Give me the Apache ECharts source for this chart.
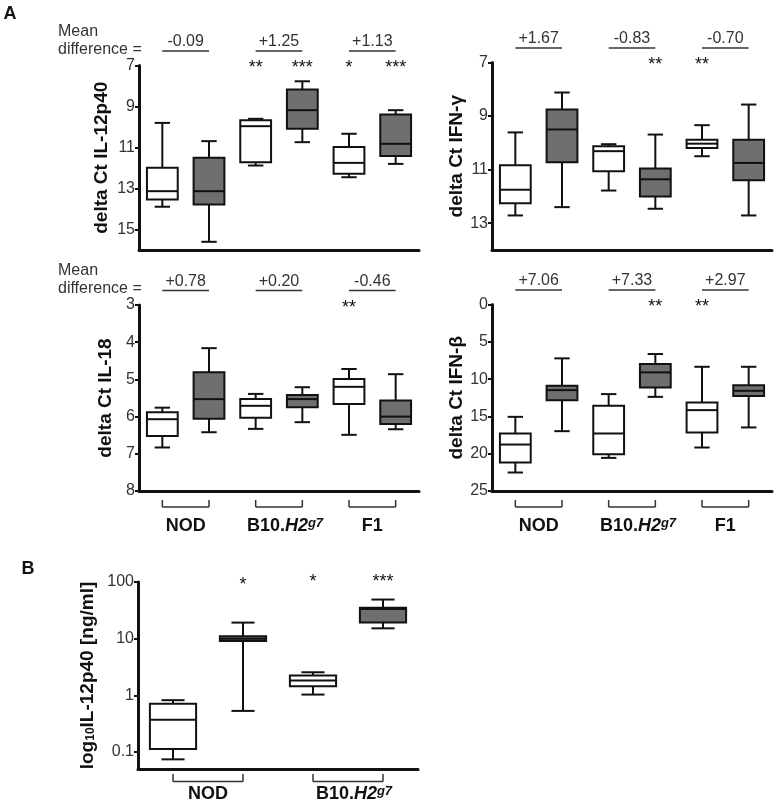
<!DOCTYPE html>
<html>
<head>
<meta charset="utf-8">
<script src="https://cdn.jsdelivr.net/npm/echarts@6/dist/echarts.min.js"></script>
<style>html,body{margin:0;padding:0;background:#fff}#c{width:776px;height:807px}</style>
</head>
<body>
<div id="c"></div>
<script>
// ---------- data ----------
const categories = ['NOD a', 'NOD b', 'B10 a', 'B10 b', 'F1 a', 'F1 b'];
const groupLabels = ['NOD', 'B10.H2g7', 'F1'];
const fillKinds = [0, 1, 0, 1, 0, 1]; // 0 = white box, 1 = grey box
// box values: [min, Q1, median, Q3, max]
const il12p40 = [
  [9.80, 11.99, 13.13, 13.54, 13.89],
  [10.69, 11.50, 13.13, 13.78, 15.60],
  [9.60, 9.67, 9.96, 11.72, 11.88],
  [7.77, 8.17, 9.18, 10.09, 10.74],
  [10.33, 10.97, 11.75, 12.28, 12.45],
  [9.18, 9.39, 10.82, 11.42, 11.80]
];
const ifnGamma = [
  [9.61, 10.84, 11.75, 12.25, 12.71],
  [8.12, 8.75, 9.50, 10.72, 12.40],
  [10.05, 10.13, 10.31, 11.06, 11.78],
  [9.69, 10.96, 11.36, 12.00, 12.46],
  [9.34, 9.88, 10.03, 10.19, 10.50],
  [8.57, 9.88, 10.75, 11.40, 12.71]
];
const il18 = [
  [5.76, 5.88, 6.07, 6.52, 6.83],
  [4.16, 4.81, 5.53, 6.06, 6.42],
  [5.39, 5.53, 5.71, 6.03, 6.33],
  [5.21, 5.42, 5.53, 5.75, 6.15],
  [4.72, 4.99, 5.20, 5.66, 6.49],
  [4.86, 5.57, 6.00, 6.20, 6.34]
];
const ifnBeta = [
  [15.06, 17.29, 18.77, 21.18, 22.52],
  [7.22, 10.90, 11.48, 12.82, 16.98],
  [12.01, 13.58, 17.29, 20.07, 20.56],
  [6.64, 7.99, 9.10, 11.11, 12.38],
  [8.35, 13.13, 14.16, 17.15, 19.17],
  [8.35, 10.81, 11.57, 12.28, 16.48]
];
const categoriesB = ['NOD a', 'NOD b', 'B10 a', 'B10 b'];
const groupLabelsB = ['NOD', 'B10.H2g7'];
const fillKindsB = [0, 1, 0, 1];
const il12p40Protein = [
  [0.074, 0.113, 0.37, 0.71, 0.82],
  [0.53, 9.1, 10.0, 11.0, 19.2],
  [1.03, 1.45, 1.82, 2.24, 2.55],
  [15.2, 19.2, 33.5, 35.0, 49.0]
];
const meanDiffIl12p40 = ['-0.09', '+1.25', '+1.13'];
const meanDiffIfnGamma = ['+1.67', '-0.83', '-0.70'];
const meanDiffIl18 = ['+0.78', '+0.20', '-0.46'];
const meanDiffIfnBeta = ['+7.06', '+7.33', '+2.97'];
const starsIl12p40 = ['', '', '**', '***', '*', '***'];
const starsIfnGamma = ['', '', '', '**', '**', ''];
const starsIl18 = ['', '', '', '', '**', ''];
const starsIfnBeta = ['', '', '', '**', '**', ''];
const starsB = ['', '*', '*', '***'];
const ticksIl12p40 = [7, 9, 11, 13, 15];
const ticksIfnGamma = [7, 9, 11, 13];
const ticksIl18 = [3, 4, 5, 6, 7, 8];
const ticksIfnBeta = [0, 5, 10, 15, 20, 25];
const ticksB = [0.1, 1, 10, 100];

// ---------- styling ----------
const FONT = '"Liberation Sans", Arial, Helvetica, sans-serif';
const GREY = '#6f6f6f';
const INK = '#111';
const TXT = '#333';

const chart = echarts.init(document.getElementById('c'), null, {renderer: 'canvas'});

function rows(vals, kinds) {
  return vals.map((v, i) => [i].concat(v).concat([kinds[i]]));
}

function renderBox(params, api) {
  const cat = api.value(0);
  const pMin = api.coord([cat, api.value(1)]);
  const pQ1 = api.coord([cat, api.value(2)]);
  const pMed = api.coord([cat, api.value(3)]);
  const pQ3 = api.coord([cat, api.value(4)]);
  const pMax = api.coord([cat, api.value(5)]);
  const band = Math.abs(api.coord([1, api.value(3)])[0] - api.coord([0, api.value(3)])[0]);
  const bw = band * 0.66, cw = bw * 0.5, x = pMed[0];
  const fill = api.value(6) ? GREY : '#fff';
  const ls = {stroke: INK, lineWidth: 2};
  const top = Math.min(pQ1[1], pQ3[1]), h = Math.abs(pQ1[1] - pQ3[1]);
  return {
    type: 'group',
    children: [
      {type: 'line', shape: {x1: x, y1: pMin[1], x2: x, y2: pMax[1]}, style: ls},
      {type: 'line', shape: {x1: x - cw / 2, y1: pMin[1], x2: x + cw / 2, y2: pMin[1]}, style: ls},
      {type: 'line', shape: {x1: x - cw / 2, y1: pMax[1], x2: x + cw / 2, y2: pMax[1]}, style: ls},
      {type: 'rect', shape: {x: x - bw / 2, y: top, width: bw, height: h}, style: {fill: fill, stroke: INK, lineWidth: 2}},
      {type: 'line', shape: {x1: x - bw / 2, y1: pMed[1], x2: x + bw / 2, y2: pMed[1]}, style: ls}
    ]
  };
}

const grids = [
  {left: 139, top: 65.5, width: 280, height: 184.5},
  {left: 492, top: 62.5, width: 280, height: 187.5},
  {left: 139, top: 305, width: 280, height: 186},
  {left: 492, top: 304.5, width: 280, height: 186.5},
  {left: 138, top: 582, width: 280, height: 187}
].map(g => Object.assign({outerBoundsMode: 'none', containLabel: false}, g));

function xAx(i, cats) {
  return {
    type: 'category', gridIndex: i, data: cats,
    axisLine: {onZero: false, lineStyle: {color: INK, width: 3}},
    axisTick: {show: false}, axisLabel: {show: false}, splitLine: {show: false}
  };
}
function yAx(i, o) {
  return Object.assign({
    gridIndex: i, type: 'value', inverse: true,
    axisLine: {show: true, onZero: false, lineStyle: {color: INK, width: 3}},
    axisTick: {show: true, length: 4, lineStyle: {color: INK, width: 2}, customValues: o.ticks},
    axisLabel: {color: TXT, fontSize: 16, fontFamily: FONT, margin: 4, customValues: o.ticks,
      formatter: v => String(+(+v).toPrecision(3))},
    splitLine: {show: false},
    nameLocation: 'middle', nameRotate: 90,
    nameTextStyle: {color: INK, fontSize: 19, fontWeight: 'bold', fontFamily: FONT}
  }, o.extra);
}

const option = {
  animation: false,
  backgroundColor: '#fff',
  grid: grids,
  xAxis: [xAx(0, categories), xAx(1, categories), xAx(2, categories), xAx(3, categories), xAx(4, categoriesB)],
  yAxis: [
    yAx(0, {ticks: ticksIl12p40, extra: {min: 7, max: 16, name: 'delta Ct IL-12p40', nameGap: 28}}),
    yAx(1, {ticks: ticksIfnGamma, extra: {min: 7, max: 14, name: 'delta Ct IFN-γ', nameGap: 23}}),
    yAx(2, {ticks: ticksIl18, extra: {min: 3, max: 8, name: 'delta Ct IL-18', nameGap: 24}}),
    yAx(3, {ticks: ticksIfnBeta, extra: {min: 0, max: 25, name: 'delta Ct IFN-β', nameGap: 23}}),
    yAx(4, {ticks: ticksB, extra: {type: 'log', logBase: 10, inverse: false, min: 0.05, max: 100,
      name: '{a|log}{s|10}{a|IL-12p40 [ng/ml]}', nameGap: 41,
      nameTextStyle: {color: INK, fontSize: 19, fontWeight: 'bold', fontFamily: FONT,
        rich: {
          a: {fontSize: 19, fontWeight: 'bold', fontFamily: FONT, color: INK},
          s: {fontSize: 12, fontWeight: 'bold', fontFamily: FONT, color: INK, verticalAlign: 'bottom'}
        }}}})
  ],
  series: [
    {type: 'custom', xAxisIndex: 0, yAxisIndex: 0, renderItem: renderBox, data: rows(il12p40, fillKinds), encode: {x: 0, y: [1, 2, 3, 4, 5]}},
    {type: 'custom', xAxisIndex: 1, yAxisIndex: 1, renderItem: renderBox, data: rows(ifnGamma, fillKinds), encode: {x: 0, y: [1, 2, 3, 4, 5]}},
    {type: 'custom', xAxisIndex: 2, yAxisIndex: 2, renderItem: renderBox, data: rows(il18, fillKinds), encode: {x: 0, y: [1, 2, 3, 4, 5]}},
    {type: 'custom', xAxisIndex: 3, yAxisIndex: 3, renderItem: renderBox, data: rows(ifnBeta, fillKinds), encode: {x: 0, y: [1, 2, 3, 4, 5]}},
    {type: 'custom', xAxisIndex: 4, yAxisIndex: 4, renderItem: renderBox, data: rows(il12p40Protein, fillKindsB), encode: {x: 0, y: [1, 2, 3, 4, 5]}}
  ]
};
chart.setOption(option);

// ---------- annotations positioned through the axes ----------
function px(g, cat, val) {
  return chart.convertToPixel({xAxisIndex: g, yAxisIndex: g}, [cat, val]);
}
const yExt = [[7, 16], [7, 14], [3, 8], [0, 25], [0.05, 100]];
function gridTop(g) { return g === 4 ? px(4, 0, 100)[1] : px(g, 0, yExt[g][0])[1]; }
function gridBottom(g) { return g === 4 ? px(4, 0, 0.05)[1] : px(g, 0, yExt[g][1])[1]; }

const gfx = [];
function text(x, y, str, o) {
  gfx.push({type: 'text', x: x, y: y, silent: true,
    style: Object.assign({text: str, fill: TXT, font: '16px ' + FONT, textAlign: 'center', textVerticalAlign: 'middle'}, o || {})});
}
function line(x1, y1, x2, y2, w, c) {
  gfx.push({type: 'line', silent: true, shape: {x1, y1, x2, y2}, style: {stroke: c || TXT, lineWidth: w || 1.5}});
}

// panel letters
text(10, 14, 'A', {font: 'bold 18px ' + FONT, fill: INK});
text(28, 569, 'B', {font: 'bold 18px ' + FONT, fill: INK});

// "Mean difference =" labels
[[0, 31.5], [2, 270.5]].forEach(([g, y]) => {
  text(58, y, 'Mean', {textAlign: 'left'});
  text(58, y + 18.5, 'difference =', {textAlign: 'left'});
});

const meanDiffs = [meanDiffIl12p40, meanDiffIfnGamma, meanDiffIl18, meanDiffIfnBeta];
const stars = [starsIl12p40, starsIfnGamma, starsIl18, starsIfnBeta];
for (let g = 0; g < 4; g++) {
  const top = gridTop(g);
  for (let k = 0; k < 3; k++) {
    const xa = px(g, 2 * k, yExt[g][0])[0], xb = px(g, 2 * k + 1, yExt[g][0])[0];
    text((xa + xb) / 2, top - 23.5, meanDiffs[g][k]);
    line(xa, top - 14.5, xb, top - 14.5, 1.5);
  }
  stars[g].forEach((s, i) => {
    if (s) text(px(g, i, yExt[g][0])[0], top + 3, s, {font: '18px ' + FONT, fill: INK});
  });
}
starsB.forEach((s, i) => {
  if (s) text(px(4, i, 100)[0], gridTop(4) + (i === 1 ? 3 : 0), s, {font: '18px ' + FONT, fill: INK});
});

// group brackets
function bracket(g, nGroups, labels, y0, y1, yl) {
  for (let k = 0; k < nGroups; k++) {
    const xa = px(g, 2 * k, g === 4 ? 1 : yExt[g][0])[0], xb = px(g, 2 * k + 1, g === 4 ? 1 : yExt[g][0])[0];
    line(xa, y0, xa, y1, 1.5);
    line(xb, y0, xb, y1, 1.5);
    line(xa, y1, xb, y1, 1.5);
    const lab = labels[k];
    const cx = (xa + xb) / 2;
    if (lab.indexOf('.H2') >= 0) {
      gfx.push({type: 'text', x: cx + 6, y: yl, silent: true, style: {
        text: '{b|B10.}{i|H2}{s|g7}', align: 'center', verticalAlign: 'middle',
        rich: {
          b: {font: 'bold 18px ' + FONT, fill: INK, verticalAlign: 'bottom'},
          i: {font: 'italic bold 18px ' + FONT, fill: INK, verticalAlign: 'bottom'},
          s: {font: 'italic bold 13px ' + FONT, fill: INK, verticalAlign: 'top'}
        }}});
    } else {
      text(cx, yl, lab, {font: 'bold 18px ' + FONT, fill: INK});
    }
  }
}
[2, 3].forEach(g => {
  const b = gridBottom(g);
  bracket(g, 3, groupLabels, b + 9, b + 16, b + 35);
});
{
  const b = gridBottom(4);
  bracket(4, 2, groupLabelsB, b + 5, b + 12.5, b + 25);
}

chart.setOption({graphic: gfx});
</script>
</body>
</html>
